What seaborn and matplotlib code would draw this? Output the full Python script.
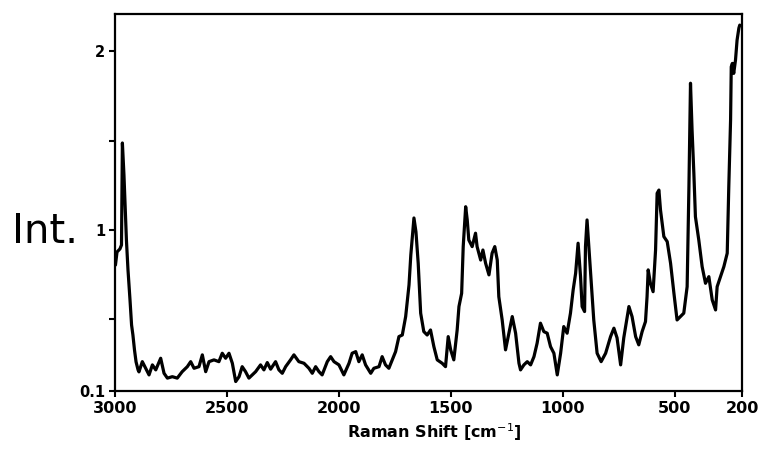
import matplotlib
matplotlib.use("Agg")
import matplotlib.pyplot as plt
import seaborn as sns
import pandas as pd

# Raman shift (cm^-1) and intensity
shift = [2998, 2991, 2978, 2971, 2967, 2960, 2953, 2949, 2942, 2933, 2926, 2920, 2913, 2906, 2897,
         2893, 2878, 2863, 2848, 2833, 2818, 2796, 2781, 2766, 2744, 2722, 2700, 2677, 2662, 2647,
         2625, 2610, 2595, 2580, 2558, 2536, 2521, 2506, 2491, 2476, 2461, 2446, 2432, 2417, 2402,
         2387, 2372, 2350, 2335, 2320, 2305, 2283, 2268, 2253, 2238, 2216, 2201, 2179, 2156, 2134,
         2119, 2104, 2089, 2075, 2052, 2037, 2022, 2000, 1978, 1955, 1941, 1925, 1911, 1896, 1881,
         1858, 1844, 1821, 1807, 1792, 1777, 1762, 1747, 1732, 1717, 1702, 1687, 1679, 1665, 1656,
         1646, 1635, 1621, 1606, 1591, 1576, 1561, 1539, 1524, 1512, 1501, 1487, 1472, 1464, 1452,
         1445, 1434, 1427, 1420, 1405, 1390, 1383, 1367, 1357, 1345, 1330, 1316, 1304, 1293, 1286,
         1271, 1256, 1241, 1226, 1211, 1196, 1189, 1174, 1159, 1144, 1129, 1115, 1100, 1085, 1070,
         1055, 1040, 1025, 1010, 996, 981, 966, 954, 943, 932, 921, 914, 903, 899, 892,
         884, 874, 862, 847, 829, 809, 787, 772, 758, 742, 728, 705, 691, 675, 661,
         646, 631, 624, 619, 609, 597, 586, 579, 571, 564, 549, 534, 519, 504, 490,
         475, 460, 445, 437, 430, 423, 415, 408, 393, 378, 363, 348, 333, 318, 311,
         296, 281, 266, 259, 251, 248, 243, 237, 229, 222, 214, 210]
intensity = [0.804, 0.877, 0.894, 0.916, 1.486, 1.307, 1.084, 0.944, 0.777, 0.609, 0.469, 0.413, 0.330, 0.263, 0.218,
             0.207, 0.264, 0.227, 0.190, 0.246, 0.218, 0.283, 0.199, 0.172, 0.180, 0.172, 0.208, 0.236, 0.264, 0.227,
             0.236, 0.302, 0.208, 0.264, 0.274, 0.264, 0.311, 0.283, 0.311, 0.255, 0.153, 0.180, 0.236, 0.208, 0.172,
             0.190, 0.208, 0.246, 0.218, 0.259, 0.222, 0.264, 0.218, 0.199, 0.236, 0.274, 0.302, 0.264, 0.255, 0.227,
             0.199, 0.236, 0.208, 0.190, 0.264, 0.292, 0.264, 0.246, 0.190, 0.255, 0.311, 0.320, 0.264, 0.302, 0.246,
             0.199, 0.227, 0.236, 0.292, 0.246, 0.227, 0.274, 0.320, 0.404, 0.413, 0.516, 0.693, 0.860, 1.067, 0.989,
             0.814, 0.535, 0.432, 0.413, 0.441, 0.348, 0.274, 0.255, 0.236, 0.404, 0.330, 0.274, 0.441, 0.572, 0.646,
             0.907, 1.130, 1.056, 0.944, 0.907, 0.982, 0.907, 0.832, 0.888, 0.814, 0.749, 0.870, 0.907, 0.832, 0.627,
             0.497, 0.330, 0.423, 0.516, 0.423, 0.255, 0.218, 0.246, 0.264, 0.246, 0.292, 0.367, 0.479, 0.432, 0.423,
             0.348, 0.311, 0.190, 0.311, 0.460, 0.423, 0.535, 0.665, 0.758, 0.926, 0.739, 0.572, 0.544, 0.907, 1.056,
             0.907, 0.721, 0.497, 0.311, 0.264, 0.311, 0.404, 0.451, 0.397, 0.246, 0.397, 0.572, 0.516, 0.404, 0.358,
             0.432, 0.488, 0.627, 0.777, 0.702, 0.655, 0.888, 1.205, 1.223, 1.112, 0.963, 0.935, 0.814, 0.646, 0.497,
             0.516, 0.535, 0.683, 1.242, 1.820, 1.559, 1.317, 1.074, 0.944, 0.795, 0.702, 0.739, 0.609, 0.553, 0.683,
             0.739, 0.795, 0.870, 1.242, 1.615, 1.912, 1.931, 1.875, 1.950, 2.061, 2.128, 2.145]

x_ticks = [3000, 2500, 2000, 1500, 1000, 500, 200]
x_tick_labels = ["3000", "2500", "2000", "1500", "1000", "500", "200"]
y_ticks = [0.1, 0.5, 1, 1.5, 2]
y_tick_labels = ["0.1", "", "1", "", "2"]

df = pd.DataFrame({"shift": shift, "intensity": intensity})

sns.set_theme(style="ticks")
plt.rcParams["font.family"] = ["DejaVu Sans"]
plt.rcParams["text.color"] = "black"
plt.rcParams["xtick.color"] = "black"
plt.rcParams["ytick.color"] = "black"
plt.rcParams["xtick.labelcolor"] = "black"
plt.rcParams["ytick.labelcolor"] = "black"

fig = plt.figure(figsize=(7.63, 4.66), dpi=100)
ax = fig.add_axes([115 / 763, 1 - 391 / 466, (742 - 115) / 763, (391 - 14) / 466])

sns.lineplot(data=df, x="shift", y="intensity", ax=ax, color="black",
             linewidth=2.3, sort=False, estimator=None)

ax.set_xlim(3000, 200)
ax.set_ylim(0.1, 2.207)
ax.set_xticks(x_ticks)
ax.set_xticklabels(x_tick_labels, fontsize=11.5, fontweight="bold")
ax.set_yticks(y_ticks)
ax.set_yticklabels(y_tick_labels, fontsize=10.5, fontweight="bold")
ax.tick_params(axis="both", direction="out", length=4, width=1.5, colors="black", pad=3)
ax.set_xlabel("")
ax.set_ylabel("")
for sp in ax.spines.values():
    sp.set_visible(True)
    sp.set_linewidth(1.6)
    sp.set_color("black")

fig.text(434 / 763, 1 - 432 / 466, "Raman Shift [cm$^{-1}$]", ha="center", va="center",
         fontsize=11.5, fontweight="bold", color="black")
fig.text(12 / 763, 1 - 243 / 466, "Int.", ha="left", va="baseline", fontsize=29,
         fontweight="normal", color="black")

fig.savefig("out.png", dpi=100)
